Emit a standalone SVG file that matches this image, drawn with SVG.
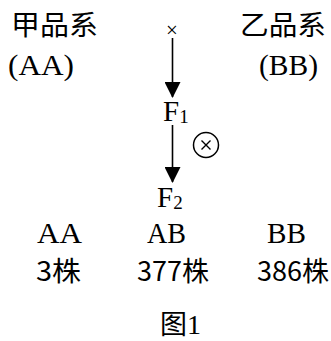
<svg xmlns="http://www.w3.org/2000/svg" width="331" height="341" viewBox="0 0 331 341">
<style>
.cjk{font-family:"Noto Sans CJK SC","Noto Sans",sans-serif;font-size:27px;fill:#000}
.ser{font-family:"Liberation Serif","Times New Roman",serif;font-size:29px;fill:#000}
.sub{font-family:"Liberation Serif",serif;font-size:19px;fill:#000}
.ln{stroke:#000;stroke-width:1.6;fill:none}
</style>
<defs>
<marker id="ah" markerUnits="userSpaceOnUse" markerWidth="16" markerHeight="16" viewBox="0 0 16 16" refX="15" refY="8" orient="auto">
<path d="M0,0 L16,8 L0,16 Z" fill="#000"/>
</marker>
</defs>
<rect width="331" height="341" fill="#fff"/>
<g id="connectors">
<line class="ln" x1="172.5" y1="38" x2="172.5" y2="97" marker-end="url(#ah)"/>
<line class="ln" x1="172.5" y1="125" x2="172.5" y2="182" marker-end="url(#ah)"/>
</g>
<g id="parentA">
<text class="cjk" x="11" y="35" textLength="87" lengthAdjust="spacingAndGlyphs">甲品系</text>
<text class="ser" x="8" y="75" textLength="66" lengthAdjust="spacingAndGlyphs">(AA)</text>
</g>
<g id="cross">
<text class="ser" x="172" y="37" text-anchor="middle" style="font-size:21px">×</text>
</g>
<g id="parentB">
<text class="cjk" x="240" y="35" textLength="86" lengthAdjust="spacingAndGlyphs">乙品系</text>
<text class="ser" x="259" y="75" textLength="59" lengthAdjust="spacingAndGlyphs">(BB)</text>
</g>
<g id="F1">
<text class="ser" x="163" y="121">F<tspan class="sub" dy="2">1</tspan></text>
</g>
<g id="selfing">
<circle cx="206" cy="145" r="12.5" fill="none" stroke="#000" stroke-width="1.5"/>
<path d="M201.5,140.5 L210.5,149.5 M210.5,140.5 L201.5,149.5" stroke="#000" stroke-width="1.4"/>
</g>
<g id="F2">
<text class="ser" x="157" y="207">F<tspan class="sub" dy="2">2</tspan></text>
</g>
<g id="AA">
<text class="ser" x="37" y="243" textLength="45" lengthAdjust="spacingAndGlyphs">AA</text>
<text class="cjk" x="36" y="281" textLength="45" lengthAdjust="spacingAndGlyphs">3株</text>
</g>
<g id="AB">
<text class="ser" x="147" y="243" textLength="39" lengthAdjust="spacingAndGlyphs">AB</text>
<text class="cjk" x="137" y="281" textLength="72" lengthAdjust="spacingAndGlyphs">377株</text>
</g>
<g id="BB">
<text class="ser" x="267" y="243" textLength="39" lengthAdjust="spacingAndGlyphs">BB</text>
<text class="cjk" x="257" y="281" textLength="72" lengthAdjust="spacingAndGlyphs">386株</text>
</g>
<g id="caption">
<text class="cjk" x="160" y="334">图</text>
<text class="ser" x="187" y="334" style="font-size:28px">1</text>
</g>
</svg>
